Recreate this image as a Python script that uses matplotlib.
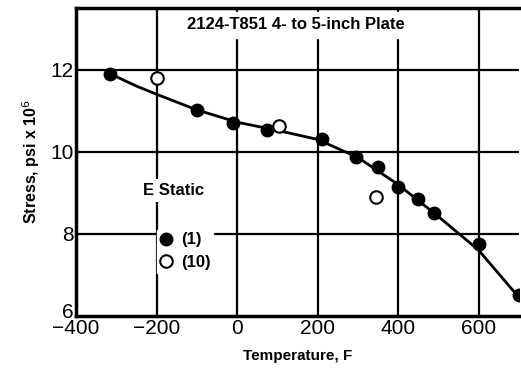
import numpy as np
import matplotlib
matplotlib.use('Agg')
import matplotlib.pyplot as plt
import matplotlib.transforms as mtransforms

plt.rcParams['font.family'] = ['Liberation Sans', 'DejaVu Sans']

# filled points: E static (1)
t1 = [-315, -100, -10, 75, 210, 295, 350, 400, 450, 490, 600, 700]
e1 = [11.9, 11.02, 10.7, 10.52, 10.32, 9.88, 9.62, 9.15, 8.85, 8.5, 7.75, 6.5]
# open points: E static (10)
t10 = [-200, 105, 345]
e10 = [11.8, 10.62, 8.9]
# faired curve
tc = [-320, -250, -200, -100, 0, 100, 200, 300, 400, 500, 600, 700]
ec = [11.92, 11.6, 11.4, 11.02, 10.72, 10.52, 10.3, 9.86, 9.2, 8.42, 7.6, 6.45]

fig = plt.figure(figsize=(5.21, 3.69), dpi=100)
ax = fig.add_axes([0.146, 0.144, 0.85, 0.834])

for x in [-200, 0, 200, 400, 600]:
    ax.axvline(x, color='black', lw=1.6, zorder=1)
for y in [8, 10, 12]:
    ax.axhline(y, color='black', lw=1.6, zorder=1)

ax.plot(tc, ec, color='black', lw=2, zorder=2)
ax.plot(t1, e1, 'o', ms=9, mfc='black', mec='black', zorder=3)
ax.plot(t10, e10, 'o', ms=9, mfc='white', mec='black', mew=1.5, zorder=3)

ax.set_xlim(-400, 700)
ax.set_ylim(6, 13.5)
ax.set_xticks([-400, -200, 0, 200, 400, 600])
ax.set_xticklabels(['\u2212400', '\u2212200', '0', '200', '400', '600'])
ax.set_yticks([6, 8, 10, 12])
ax.tick_params(length=0, labelsize=15, pad=2)
for s in ['left', 'bottom', 'top']:
    ax.spines[s].set_linewidth(2.5)
ax.spines['right'].set_visible(False)

# lift the "6" a little so it sits just above "-400"
lab6 = ax.get_yticklabels()[0]
lab6.set_transform(lab6.get_transform() + mtransforms.ScaledTranslation(0, 4/72, fig.dpi_scale_trans))

ax.set_xlabel('Temperature, F', fontsize=11, fontweight='bold', labelpad=8)
ax.set_ylabel('Stress, psi x 10$^6$', fontsize=11.5, fontweight='bold', labelpad=6)

ax.text(145, 13.1, '2124-T851 4- to 5-inch Plate', fontsize=12, fontweight='bold',
        ha='center', va='center', backgroundcolor='white', zorder=4)
ax.text(-157, 9.05, 'E Static', fontsize=12, fontweight='bold', ha='center', va='center',
        bbox=dict(fc='white', ec='none', pad=3), zorder=4)
ax.plot([-177], [7.88], 'o', ms=9, mfc='black', mec='black', zorder=5)
ax.plot([-177], [7.34], 'o', ms=9, mfc='white', mec='black', mew=1.5, zorder=5)
ax.text(-140, 7.85, '(1)', fontsize=12, fontweight='bold', va='center', zorder=5)
ax.text(-140, 7.31, '(10)', fontsize=12, fontweight='bold', va='center', zorder=5)
ax.fill_between([-200, -60], 7.05, 8.1, color='white', zorder=4)

fig.savefig('out.png', dpi=100)
